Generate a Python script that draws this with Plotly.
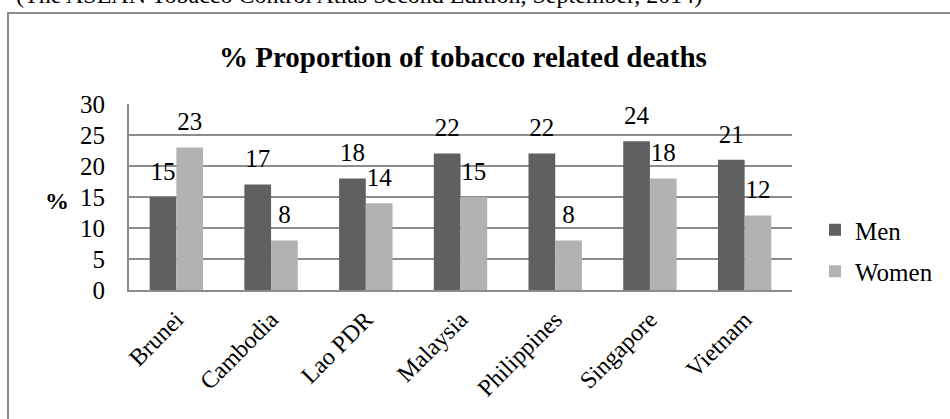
import plotly.graph_objects as go

countries = ["Brunei", "Cambodia", "Lao PDR", "Malaysia", "Philippines", "Singapore", "Vietnam"]
men = [15, 17, 18, 22, 22, 24, 21]
women = [23, 8, 14, 15, 8, 18, 12]
yticks = [0, 5, 10, 15, 20, 25, 30]

W, H = 950, 419
L, R, T, B = 129, 792, 104, 290
FONT = "Liberation Serif"
MEN_C, WOMEN_C = "#606060", "#b2b2b2"

def px_x(px):
    return (px - L) / (R - L)

def px_y(py):
    return (B - py) / (B - T)

fig = go.Figure()
fig.add_trace(go.Bar(x=countries, y=men, name="Men", marker_color=MEN_C,
                     marker_line_width=0, legendgroup="m", offsetgroup="m"))
fig.add_trace(go.Bar(x=countries, y=women, name="Women", marker_color=WOMEN_C,
                     marker_line_width=0, legendgroup="w", offsetgroup="w"))
# value labels
for vals, grp in ((men, "m"), (women, "w")):
    fig.add_trace(go.Scatter(x=countries, y=vals, mode="markers+text",
                             text=[str(v) for v in vals], textposition="top center",
                             marker=dict(size=16, opacity=0), offsetgroup=grp,
                             showlegend=False, hoverinfo="skip", cliponaxis=False,
                             textfont=dict(family=FONT, size=25, color="#000")))

fig.update_layout(
    width=W, height=H,
    margin=dict(l=L, r=W - R, t=T, b=H - B, pad=0),
    paper_bgcolor="white", plot_bgcolor="white",
    barmode="group", bargap=0.436, bargroupgap=0,
    scattermode="group", scattergap=0.436,
    font=dict(family=FONT, size=25, color="#000"),
    showlegend=True,
    legend=dict(x=px_x(815), y=px_y(207), xanchor="left", yanchor="top",
                font=dict(family=FONT, size=25), tracegroupgap=6,
                itemwidth=30, bgcolor="rgba(0,0,0,0)"),
)
fig.update_yaxes(range=[0, 30], tickvals=yticks, ticktext=[str(v) for v in yticks],
                 showgrid=True, gridcolor="#8c8c8c", gridwidth=2,
                 showline=True, linecolor="#8c8c8c", linewidth=2,
                 zeroline=False, ticks="", ticklabelstandoff=17,
                 tickfont=dict(family=FONT, size=25))
fig.update_xaxes(showline=True, linecolor="#8c8c8c", linewidth=2,
                 tickangle=-45, ticks="", tickfont=dict(family=FONT, size=24),
                 ticklabelstandoff=4)

# title
fig.add_annotation(text="<b>% Proportion of tobacco related deaths</b>",
                   xref="paper", yref="paper", x=px_x(463), y=px_y(57),
                   xanchor="center", yanchor="middle", showarrow=False,
                   font=dict(family=FONT, size=29, color="#000"))
# y-axis title
fig.add_annotation(text="<b>%</b>", xref="paper", yref="paper",
                   x=px_x(57), y=px_y(201), xanchor="center", yanchor="middle",
                   showarrow=False, font=dict(family=FONT, size=24, color="#000"))
# caption at top (clipped)
fig.add_annotation(text="(The ASEAN Tobacco Control Atlas Second Edition, September, 2014)",
                   xref="paper", yref="paper", x=px_x(14), y=px_y(10),
                   xanchor="left", yanchor="bottom", showarrow=False,
                   font=dict(family=FONT, size=24, color="#000"))
# outer frame
fig.add_shape(type="rect", xref="paper", yref="paper",
              x0=px_x(8), x1=px_x(1000), y0=px_y(470), y1=px_y(13),
              line=dict(color="#8c8c8c", width=2), fillcolor="rgba(0,0,0,0)",
              layer="below")

fig.write_html("out.html")
